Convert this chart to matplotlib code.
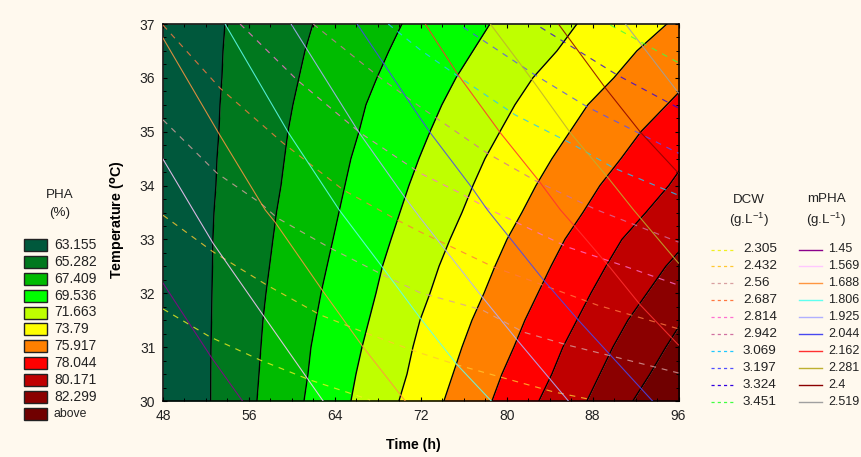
import matplotlib
matplotlib.use("Agg")
import matplotlib.pyplot as plt
from matplotlib.lines import Line2D
from matplotlib.patches import Rectangle
from matplotlib.ticker import AutoMinorLocator

plt.rcParams['font.family'] = ['Liberation Sans', 'DejaVu Sans']
plt.rcParams['mathtext.default'] = 'regular'

W, H = 861, 457
BG = '#FFF9EE'

# ---- PHA filled bands: time (h) of each band boundary at every temperature
temps = [30, 30.5, 31, 31.5, 32, 32.5, 33, 33.5, 34, 34.5, 35, 35.5, 36, 36.5, 37]
pha_labels = ['63.155', '65.282', '67.409', '69.536', '71.663', '73.79',
              '75.917', '78.044', '80.171', '82.299', 'above']
pha_colors = ['#00583C', '#00781E', '#00BB00', '#00FF00', '#BFFF00', '#FFFF00',
              '#FF8000', '#FF0000', '#BF0000', '#8B0000', '#700000']
b1 = [52.44, 52.45, 52.47, 52.52, 52.56, 52.61, 52.65, 52.75, 52.93, 53.03, 53.21, 53.31, 53.49, 53.59, 53.77]
b2 = [56.75, 56.94, 57.12, 57.31, 57.59, 57.92, 58.24, 58.57, 58.99, 59.31, 59.64, 60.10, 60.66, 61.22, 61.96]
b3 = [61.13, 61.50, 61.78, 62.24, 62.71, 63.27, 63.83, 64.38, 64.94, 65.50, 66.25, 66.90, 67.92, 69.04, 70.25]
b4 = [65.50, 65.97, 66.53, 67.18, 67.83, 68.43, 69.23, 70.06, 70.90, 71.83, 72.86, 73.97, 75.28, 76.86, 78.44]
b5 = [69.97, 70.72, 71.27, 71.93, 72.86, 73.70, 74.72, 75.84, 76.86, 77.98, 79.37, 80.77, 82.44, 84.68, 86.54]
b6 = [74.16, 75.00, 75.84, 76.77, 77.89, 78.91, 80.03, 81.42, 82.73, 84.22, 85.89, 87.56, 89.98, 92.12, 94.92]
b7 = [78.63, 79.56, 80.67, 81.70, 82.91, 84.12, 85.42, 87.10, 88.68, 90.64, 92.50, 94.92, 97.34, 99.39, 101.43]
b8 = [83.00, 84.21, 85.24, 86.54, 87.84, 89.24, 90.73, 92.96, 95.10, 96.87, 99.11, 101.25, 103.58, 105.90, 108.23]
b9 = [87.47, 88.68, 89.89, 91.29, 93.06, 94.82, 97.06, 99.11, 101.25, 103.39, 105.53, 107.67, 109.81, 111.96, 114.10]
b10 = [91.75, 93.34, 94.82, 96.41, 98.27, 100.13, 101.99, 103.86, 105.72, 107.58, 109.44, 111.30, 113.17, 115.03, 116.89]
boundaries = [b1, b2, b3, b4, b5, b6, b7, b8, b9, b10]
x_start = 48
x_stop = 130

# ---- mPHA solid isolines: (time list, temperature list)
mpha_labels = ['1.45', '1.569', '1.688', '1.806', '1.925', '2.044', '2.162', '2.281', '2.4', '2.519']
mpha_colors = ['#8B008B', '#FFC8FF', '#FF9640', '#60FFF0', '#B0B0FF', '#4848F0',
               '#FF3030', '#BDB030', '#8B0000', '#A0A0A0']
m1_t = [48.0, 52.47, 55.4];  m1_T = [32.19, 30.82, 30.0]
m2_t = [48.0, 50.8, 52.66, 57.51, 62.91];  m2_T = [34.49, 33.55, 32.93, 31.54, 30.0]
m3_t = [48.0, 53.13, 57.51, 58.44, 62.82, 66.64, 70.56];  m3_T = [36.74, 34.99, 33.55, 33.32, 32.06, 31.0, 30.0]
m4_t = [53.78, 59.65, 64.4, 68.41, 71.95, 75.4, 78.57];  m4_T = [37.0, 34.99, 33.55, 32.49, 31.54, 30.67, 30.0]
m5_t = [59.93, 66.27, 70.56, 71.95, 77.73, 80.99, 85.75];  m5_T = [37.0, 34.98, 33.77, 33.4, 31.93, 31.13, 30.0]
m6_t = [66.08, 68.5, 71.95, 72.89, 76.8, 78.2, 83.42, 86.68, 93.58];  m6_T = [37.0, 36.28, 35.25, 34.98, 33.95, 33.55, 32.25, 31.5, 30.0]
m7_t = [72.42, 75.5, 79.41, 82.95, 85.0, 86.4, 89.66, 92.46, 96.0];  m7_T = [37.0, 36.05, 34.98, 34.1, 33.55, 33.23, 32.47, 31.78, 31.04]
m8_t = [78.48, 82.39, 85.93, 89.38, 91.81, 96.0];  m8_T = [37.0, 35.96, 34.98, 34.16, 33.55, 32.56]
m9_t = [84.82, 89.2, 92.46, 96.0];  m9_T = [37.0, 35.81, 34.99, 34.23]
m10_t = [91.06, 96.0];  m10_T = [37.0, 35.72]
mpha_lines = [(m1_t, m1_T), (m2_t, m2_T), (m3_t, m3_T), (m4_t, m4_T), (m5_t, m5_T),
              (m6_t, m6_T), (m7_t, m7_T), (m8_t, m8_T), (m9_t, m9_T), (m10_t, m10_T)]

# ---- DCW dashed isolines
dcw_labels = ['2.305', '2.432', '2.56', '2.687', '2.814', '2.942', '3.069', '3.197', '3.324', '3.451']
dcw_colors = ['#F0F020', '#FFC830', '#D8A0A0', '#FF7840', '#FF70D0', '#D070A0',
              '#20C8FF', '#5050FF', '#3000E0', '#40FF40']
d1_t = [48.0, 52.38, 57.04, 61.7, 67.29];  d1_T = [31.71, 31.19, 30.76, 30.39, 30.02]
d2_t = [48.0, 52.66, 57.69, 62.63, 66.64, 71.67, 75.4, 79.69, 84.35, 87.52];  d2_T = [33.45, 32.77, 32.15, 31.6, 31.28, 30.91, 30.67, 30.43, 30.17, 30.04]
d3_t = [48.0, 53.03, 57.04, 58.63, 63.57, 68.5, 71.95, 77.73, 81.55, 85.65, 89.66, 96.0];  d3_T = [35.22, 34.23, 33.68, 33.4, 32.84, 32.34, 32.01, 31.69, 31.28, 31.04, 30.84, 30.52]
d4_t = [48.0, 53.31, 59.18, 64.78, 69.81, 71.95, 78.76, 83.42, 88.45, 96.0];  d4_T = [36.98, 35.81, 34.79, 33.92, 33.36, 33.14, 32.49, 32.15, 31.78, 31.34]
d5_t = [55.18, 60.49, 66.36, 71.95, 75.68, 78.48, 85.65, 90.6, 96.0];  d5_T = [37.0, 35.96, 34.98, 34.23, 33.86, 33.55, 32.86, 32.53, 32.15]
d6_t = [61.98, 68.23, 71.95, 78.2, 82.86, 88.26, 96.0];  d6_T = [37.0, 36.0, 35.46, 34.6, 34.07, 33.56, 32.95]
d7_t = [68.97, 71.95, 75.68, 80.81, 85.93, 89.94, 96.0];  d7_T = [37.0, 36.52, 36.0, 35.31, 34.79, 34.33, 33.82]
d8_t = [75.96, 82.67, 87.52, 96.0];  d8_T = [36.94, 36.05, 35.46, 34.6]
d9_t = [83.14, 90.32, 96.0];  d9_T = [36.94, 36.05, 35.44]
d10_t = [89.66, 92.46, 96.0];  d10_T = [36.98, 36.67, 36.28]
dcw_lines = [(d1_t, d1_T), (d2_t, d2_T), (d3_t, d3_T), (d4_t, d4_T), (d5_t, d5_T),
             (d6_t, d6_T), (d7_t, d7_T), (d8_t, d8_T), (d9_t, d9_T), (d10_t, d10_T)]

x_ticks = [48, 56, 64, 72, 80, 88, 96]
y_ticks = [30, 31, 32, 33, 34, 35, 36, 37]

fig = plt.figure(figsize=(W / 100, H / 100), dpi=100, facecolor=BG)


def fx(px):
    return px / W


def fy(py):
    return 1 - py / H


ax = fig.add_axes([fx(163), fy(401), (678.5 - 163) / W, (401 - 24) / H], facecolor=BG)

edges = [[x_start] * len(temps)] + boundaries + [[x_stop] * len(temps)]
for i, col in enumerate(pha_colors):
    ax.fill_betweenx(temps, edges[i], edges[i + 1], color=col, lw=0, zorder=1)
for b in boundaries:
    ax.plot(b, temps, color='black', lw=1.0, zorder=2)

for (t, T), col in zip(dcw_lines, dcw_colors):
    ax.plot(t, T, color=col, lw=0.85, alpha=0.8, dashes=(5, 5), zorder=3)
for (t, T), col in zip(mpha_lines, mpha_colors):
    ax.plot(t, T, color=col, lw=0.8, alpha=0.85, zorder=3)

ax.set_xlim(48, 96)
ax.set_ylim(30, 37)
ax.set_xticks(x_ticks)
ax.set_yticks(y_ticks)
ax.xaxis.set_minor_locator(AutoMinorLocator(4))
ax.yaxis.set_minor_locator(AutoMinorLocator(4))
ax.tick_params(which='major', direction='in', length=3, width=0.8, top=True, right=True, colors='black')
ax.tick_params(which='minor', direction='in', length=2, width=0.7, top=True, right=True)
ax.tick_params(axis='x', which='major', labelsize=10, pad=6, labelcolor='#222222')
ax.tick_params(axis='y', which='major', labelsize=10, pad=5.5, labelcolor='#222222')
for s in ax.spines.values():
    s.set_linewidth(1.1)
    s.set_color('black')

fig.text(fx(413), fy(445), 'Time (h)', ha='center', va='center', fontsize=10.2, fontweight='bold')
fig.text(fx(118), fy(220), r'Temperature ($\mathbf{^{o}}$C)', ha='center', va='center',
         rotation=90, fontsize=10.3, fontweight='bold')

TXT = '#222222'
# PHA key
fig.text(fx(60), fy(195), 'PHA', ha='center', va='center', fontsize=9.6, color=TXT)
fig.text(fx(60), fy(213), '(%)', ha='center', va='center', fontsize=9.6, color=TXT)
for i, (lab, col) in enumerate(zip(pha_labels, pha_colors)):
    yc = 244.7 + i * 16.95
    fig.add_artist(Rectangle((fx(24), fy(yc + 6)), 23 / W, 12 / H, transform=fig.transFigure,
                             facecolor=col, edgecolor='#222222', lw=1.0))
    fig.text(fx(54), fy(yc), lab, ha='left', va='center', fontsize=10 if lab != 'above' else 8.8, color=TXT)

# Isoline keys
fig.text(fx(749), fy(200), 'DCW', ha='center', va='center', fontsize=9.6, color=TXT)
fig.text(fx(749), fy(220), r'(g.L$^{-1}$)', ha='center', va='center', fontsize=9.6, color=TXT)
fig.text(fx(826), fy(199), 'mPHA', ha='center', va='center', fontsize=9.6, color=TXT)
fig.text(fx(826), fy(220), r'(g.L$^{-1}$)', ha='center', va='center', fontsize=9.6, color=TXT)
for i, (lab, col) in enumerate(zip(dcw_labels, dcw_colors)):
    yc = 249.5 + i * 16.9
    fig.add_artist(Line2D([fx(711), fx(733)], [fy(yc), fy(yc)], transform=fig.transFigure,
                          color=col, lw=0.9, dashes=(2.5, 2.5)))
    fig.text(fx(743), fy(yc), lab, ha='left', va='center', fontsize=9.7, color=TXT)
for i, (lab, col) in enumerate(zip(mpha_labels, mpha_colors)):
    yc = 249.5 + i * 16.9
    fig.add_artist(Line2D([fx(799), fx(822)], [fy(yc), fy(yc)], transform=fig.transFigure,
                          color=col, lw=1.0))
    fig.text(fx(828), fy(yc), lab, ha='left', va='center', fontsize=9.0, color=TXT)

fig.savefig('out.png', dpi=100, facecolor=BG)
